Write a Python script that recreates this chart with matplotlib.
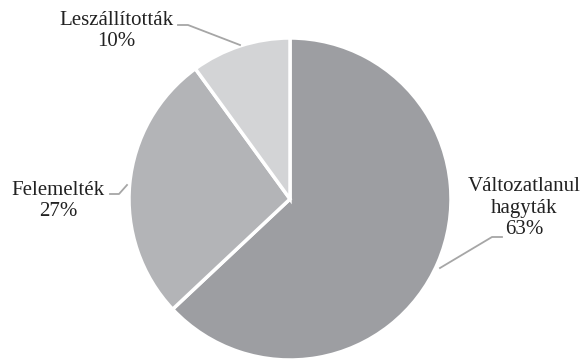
import matplotlib.pyplot as plt

labels = ['Változatlanul\nhagyták', 'Felemelték', 'Leszállították']
shares = [63, 27, 10]
colors = ['#9d9ea2', '#b3b4b7', '#d3d4d6']

plt.rcParams['font.family'] = 'serif'
plt.rcParams['font.serif'] = ['Liberation Serif', 'DejaVu Serif']

fig = plt.figure(figsize=(5.85, 3.6), dpi=100)
ax = fig.add_axes([0, 0, 1, 1])

# centre (290, 199) from the top-left -> 161 from the bottom
ax.pie(shares, colors=colors, startangle=90, counterclock=False,
       center=(290, 161), radius=161,
       wedgeprops=dict(edgecolor='white', linewidth=2.5))

# pie() resets the view, so set the pixel frame afterwards
ax.set_xlim(0, 585)
ax.set_ylim(0, 360)
ax.set_aspect('auto')
ax.axis('off')

# label positions (pixels from top-left) and leader lines
txt_pos = [(524, 208), (58, 201), (116, 31)]
leaders = [
    [(502, 237), (492, 237), (440, 268)],
    [(110, 194), (119, 194), (127, 185)],
    [(178, 25), (188, 25), (240, 45)],
]
for lab, val, (tx, ty), pts in zip(labels, shares, txt_pos, leaders):
    ax.text(tx, 360 - ty, f'{lab}\n{val}%', ha='center', va='center',
            fontsize=15, color='#222222', linespacing=1.2)
    xs = [p[0] for p in pts]
    ys = [360 - p[1] for p in pts]
    ax.plot(xs, ys, color='#a6a6a6', lw=1.3)

fig.savefig('out.png', dpi=100)
